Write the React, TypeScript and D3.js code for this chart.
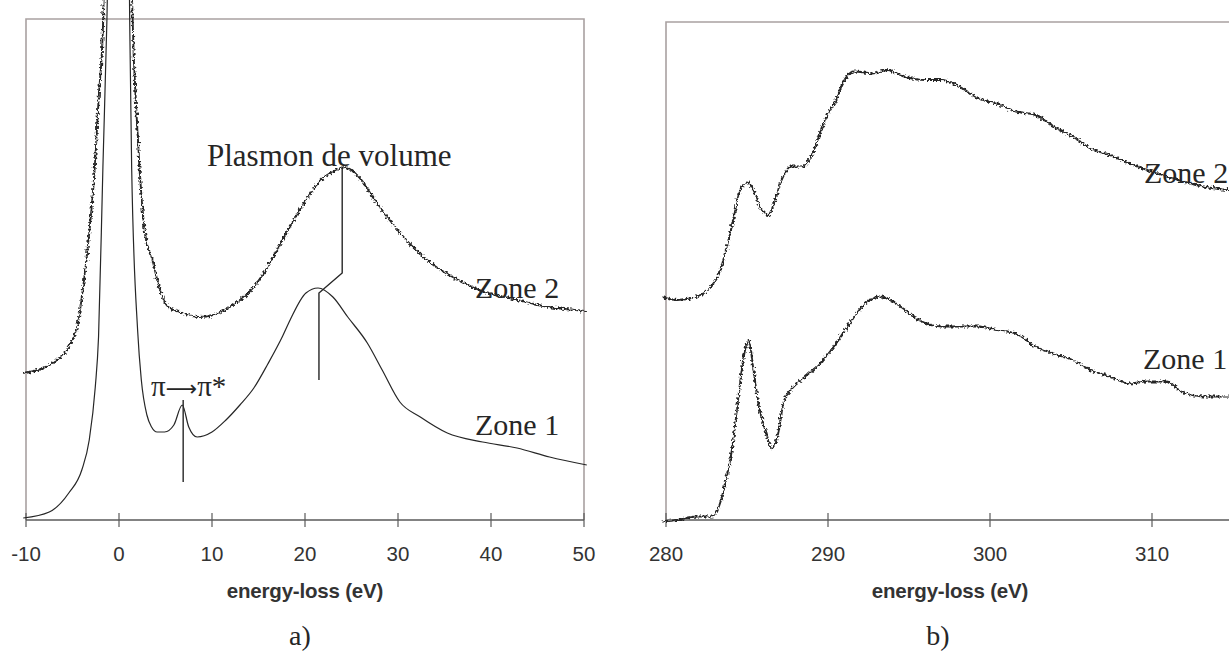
import React from "react";
import * as d3 from "d3";

// ---------- Data ----------
// Panel a) low-loss region, energy in eV, intensity in arbitrary units
const lowZone1E = [-10.3, -7.5, -5.4, -4.0, -3.2, -2.55, -2.2, -1.73, -1.3, -1.2, 1.1, 1.15, 1.36, 2.0, 2.4, 3.0, 3.5, 4.1, 4.9, 5.9, 6.8, 7.5, 8.4, 10.0, 11.5, 13.0, 14.5, 16.0, 17.6, 18.4, 20.1, 21.4, 23.0, 24.6, 26.7, 28.3, 30.2, 32.4, 35.3, 39.1, 42.8, 46.3, 50.3];
const lowZone1I = [0.4, 1.6, 5.4, 10, 16, 26.6, 36.6, 70.6, 100, 108, 108, 100, 70.6, 38, 28, 21, 18.6, 17.6, 17.6, 19, 23, 18.6, 16.6, 17.6, 20, 23, 26.4, 31.2, 36.8, 40, 45.4, 46.4, 44.6, 40.6, 35.4, 30, 23.6, 20.6, 17.4, 15.6, 14.4, 12.6, 11];
const lowZone2E = [-10.3, -8.7, -6.7, -5.4, -4.4, -3.8, -3.2, -2.6, -2.2, -1.7, -1.6, 1.3, 1.6, 1.8, 2.2, 2.8, 3.6, 4.4, 5.3, 6.5, 8.6, 10.2, 11.9, 13.9, 16.0, 18.0, 20.1, 21.7, 23.4, 24.2, 25.8, 27.5, 29.1, 31.6, 33.8, 36.5, 39.0, 42.0, 45.0, 50.2];
const lowZone2I = [29.4, 30, 32, 34.6, 39.6, 47.4, 57.4, 70.6, 84, 100, 108, 108, 92, 84, 70.6, 57.4, 52, 46, 42.6, 41.6, 40.6, 41, 42.6, 45.4, 50.6, 57.4, 64, 68, 70, 70.6, 68.6, 64, 60, 54.6, 51, 48, 45.8, 44.4, 43, 41.8];

// Panel b) carbon K edge, energy in eV
const coreZone2E = [279.8, 280.7, 281.9, 282.8, 283.3, 283.7, 284.2, 284.5, 285.0, 285.4, 285.8, 286.3, 286.6, 287.1, 287.7, 288.4, 289.1, 289.5, 290.0, 290.5, 290.9, 291.6, 292.8, 293.7, 294.6, 296.0, 297.0, 298.1, 299.3, 300.4, 301.6, 302.8, 303.9, 305.1, 306.2, 307.4, 308.6, 309.7, 310.9, 312.7, 314.6, 316];
const coreZone2I = [44.5, 44, 44.7, 46.7, 49.4, 54, 60.7, 65.4, 67.5, 66, 62.7, 61, 62.7, 67.7, 70.7, 70.7, 73.7, 77.3, 81.3, 84, 87.3, 89.7, 89.3, 90, 88.8, 88, 88, 86.7, 84.3, 83.3, 81.7, 81, 78.7, 76.7, 74.3, 73, 71.3, 70, 68.7, 67, 66, 65.6];
const coreZone1E = [279.8, 280.7, 281.9, 282.8, 283.3, 283.7, 284.1, 284.4, 284.8, 285.1, 285.4, 285.7, 286.2, 286.5, 286.9, 287.3, 287.9, 288.6, 289.5, 290.5, 291.2, 292.3, 293.2, 294.2, 295.6, 297.0, 299.3, 300.4, 301.6, 302.8, 303.9, 305.1, 306.2, 307.4, 308.6, 309.7, 310.9, 311.8, 313.2, 314.6, 316];
const coreZone1I = [-0.3, 0, 0.7, 0.7, 3, 8, 14.7, 22.7, 32.7, 36, 30, 23.3, 17.3, 14.3, 17, 24, 26.7, 28.7, 31.3, 35.3, 38.7, 43.3, 44.7, 43.3, 40, 38.7, 38.7, 38, 37.3, 34.7, 33.3, 32, 30, 28.7, 27.3, 27.7, 27.7, 25.7, 24.7, 24.7, 24.4];

// Annotation markers
const plasmonMarkE = [21.5, 21.5, 24.0, 24.0];
const plasmonMarkI = [28, 45.4, 49.4, 70.4];
const piMarkE = [6.9, 6.9];
const piMarkI = [24, 7.6];

// Axes
const lowTicks = [-10, 0, 10, 20, 30, 40, 50];
const coreTicks = [280, 290, 300, 310];
const axisTitle = "energy-loss (eV)";

// ---------- Layout ----------
const W = 1229;
const H = 653;
const axisY = 520;

const xLow = d3.scaleLinear().domain([-10, 50]).range([26, 584]);
const xCore = d3.scaleLinear().domain([280, 320]).range([666, 1314]);
const yI = d3.scaleLinear().domain([0, 100]).range([axisY, 20]);

const pts = (e: number[], v: number[]) => e.map((d, i) => [d, v[i]] as [number, number]);

function linePath(x: d3.ScaleLinear<number, number>, e: number[], v: number[], smooth = true) {
  return d3
    .line<[number, number]>()
    .x((d) => x(d[0]))
    .y((d) => yI(d[1]))
    .curve(smooth ? d3.curveMonotoneX : d3.curveLinear)(pts(e, v)) as string;
}

const serif = "'Liberation Serif', 'Times New Roman', serif";
const sans = "'Liberation Sans', Arial, sans-serif";
const frameColor = "#a9a1a1";
const axisColor = "#5a5a5a";
const ink = "#262626";

function Panel({
  x,
  ticks,
  top,
  title,
  titleX,
  label,
  labelX,
  right,
}: {
  x: d3.ScaleLinear<number, number>;
  ticks: number[];
  top: number;
  title: string;
  titleX: number;
  label: string;
  labelX: number;
  right: number;
}) {
  const x0 = x.range()[0];
  const x1 = right;
  return (
    <g>
      <path
        d={`M${x0},${axisY}V${top}H${x1}V${axisY}`}
        fill="none"
        stroke={frameColor}
        strokeWidth={1.6}
      />
      <line x1={x0} x2={x1} y1={axisY} y2={axisY} stroke={axisColor} strokeWidth={1.6} />
      {ticks.map((t) => (
        <g key={t}>
          <line x1={x(t)} x2={x(t)} y1={axisY - 7} y2={axisY + 7} stroke={axisColor} strokeWidth={1.2} />
          <text
            x={x(t)}
            y={561}
            textAnchor="middle"
            fontFamily={sans}
            fontSize={20.5}
            fill="#333"
          >
            {t}
          </text>
        </g>
      ))}
      <text x={titleX} y={598} textAnchor="middle" fontFamily={sans} fontSize={20.5} fontWeight="bold" fill="#333" letterSpacing={-0.2}>
        {title}
      </text>
      <text x={labelX} y={645} textAnchor="middle" fontFamily={serif} fontSize={28} fill={ink}>
        {label}
      </text>
    </g>
  );
}

function Noisy({ d }: { d: string }) {
  return <path d={d} fill="none" stroke={ink} strokeWidth={1.9} filter="url(#noisy)" />;
}

export default function App() {
  return (
    <svg
      width={W}
      height={H}
      style={{ position: "fixed", left: 0, top: 0, background: "#fff", display: "block" }}
    >
      <defs>
        <filter id="noisy" x="-5%" y="-5%" width="110%" height="110%">
          <feTurbulence type="fractalNoise" baseFrequency="0.45 0.45" numOctaves={1} seed={5} result="n" />
          <feDisplacementMap in="SourceGraphic" in2="n" scale={6} xChannelSelector="R" yChannelSelector="G" />
        </filter>
      </defs>
      <rect width={W} height={H} fill="#fff" />

      <Panel x={xLow} ticks={lowTicks} top={19} title={axisTitle} titleX={305} label="a)" labelX={300} right={584} />
      <Panel x={xCore} ticks={coreTicks} top={22} title={axisTitle} titleX={950} label="b)" labelX={938} right={1240} />

      {/* Panel a curves */}
      <path d={linePath(xLow, lowZone1E, lowZone1I)} fill="none" stroke={ink} strokeWidth={1.2} />
      <Noisy d={linePath(xLow, lowZone2E, lowZone2I)} />
      <path d={linePath(xLow, plasmonMarkE, plasmonMarkI, false)} fill="none" stroke={ink} strokeWidth={1.4} />
      <path d={linePath(xLow, piMarkE, piMarkI, false)} fill="none" stroke={ink} strokeWidth={1.4} />

      {/* Panel b curves */}
      <Noisy d={linePath(xCore, coreZone2E, coreZone2I)} />
      <Noisy d={linePath(xCore, coreZone1E, coreZone1I)} />

      {/* Annotations */}
      <text x={207} y={166} fontFamily={serif} fontSize={31} fill={ink}>Plasmon de volume</text>
      <text x={151} y={396} fontFamily={serif} fontSize={29} fill={ink}>
        π<tspan fontFamily="'DejaVu Sans', sans-serif" fontSize={22}>⟶</tspan>π*
      </text>
      <text x={475} y={298} fontFamily={serif} fontSize={30} fill={ink}>Zone 2</text>
      <text x={475} y={435} fontFamily={serif} fontSize={30} fill={ink}>Zone 1</text>
      <text x={1144} y={183} fontFamily={serif} fontSize={30} fill={ink}>Zone 2</text>
      <text x={1143} y={369} fontFamily={serif} fontSize={30} fill={ink}>Zone 1</text>
    </svg>
  );
}
